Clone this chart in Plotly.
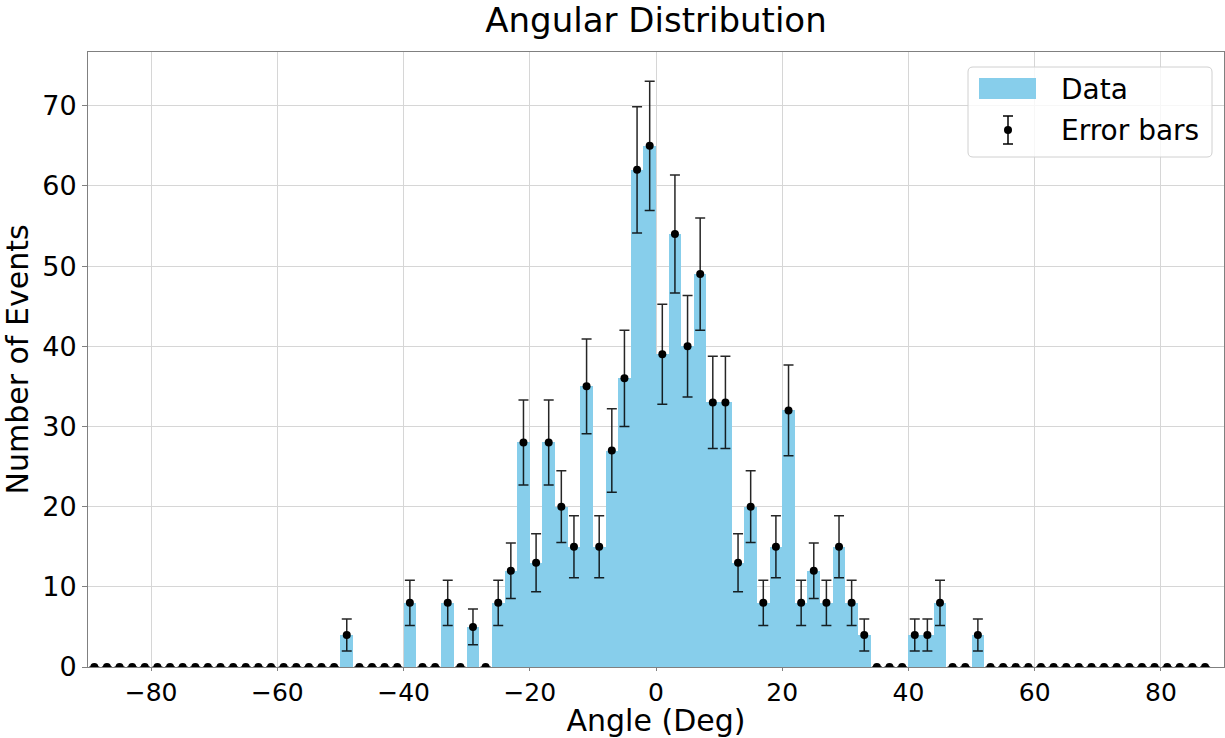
import numpy as np
import plotly.graph_objects as go

# Histogram bins (2-degree width) — bin centres from -89 to 87
bin_centers = list(range(-89, 88, 2))

# Counts per bin
counts = [
    0, 0, 0, 0, 0, 0, 0, 0, 0, 0,   # -89 .. -71
    0, 0, 0, 0, 0, 0, 0, 0, 0, 0,   # -69 .. -51
    4, 0, 0, 0, 0,                  # -49 .. -41
    8, 0, 0, 8, 0,                  # -39 .. -31
    5, 0, 8, 12, 28,                # -29 .. -21
    13, 28, 20, 15, 35,             # -19 .. -11
    15, 27, 36, 62, 65,             # -9 .. -1
    39, 54, 40, 49, 33,             # 1 .. 9
    33, 13, 20, 8, 15,              # 11 .. 19
    32, 8, 12, 8, 15,               # 21 .. 29
    8, 4, 0, 0, 0,                  # 31 .. 39
    4, 4, 8, 0, 0,                  # 41 .. 49
    4, 0, 0, 0, 0,                  # 51 .. 59
    0, 0, 0, 0, 0, 0, 0, 0, 0, 0,   # 61 .. 79
    0, 0, 0, 0,                     # 81 .. 87
]
errors = list(np.sqrt(counts))  # Poisson (sqrt N) error bars

x_tick_vals = [-80, -60, -40, -20, 0, 20, 40, 60, 80]
x_tick_text = ["\u221280", "\u221260", "\u221240", "\u221220", "0", "20", "40", "60", "80"]
y_tick_vals = [0, 10, 20, 30, 40, 50, 60, 70]
y_tick_text = ["0", "10", "20", "30", "40", "50", "60", "70"]
legend_labels = ["Data", "Error bars"]

FONT = "DejaVu Sans"
BAR_COLOR = "#87CEEB"
W, H = 1225, 738
ML, MR, MT, MB = 88, 1, 52, 71
PW, PH = W - ML - MR, H - MT - MB


def px(xp):
    return (xp - ML) / PW


def py(yp):
    return (H - MB - yp) / PH


fig = go.Figure()
fig.add_trace(go.Bar(
    x=bin_centers, y=counts, width=2,
    marker=dict(color=BAR_COLOR, line=dict(width=0)),
    name=legend_labels[0],
))
fig.add_trace(go.Scatter(
    x=bin_centers, y=counts, mode="markers",
    marker=dict(color="black", size=8),
    error_y=dict(type="data", array=errors, visible=True,
                 color="rgba(0,0,0,0.85)", thickness=1.5, width=5),
    name=legend_labels[1],
))

# ---- custom legend (matplotlib-style) ----
bx0, bx1, by0, by1, r = 968, 1212, 67, 157, 5
rx, ry = r / PW, r / PH
X0, X1, Y0, Y1 = px(bx0), px(bx1), py(by1), py(by0)
path = (f"M {X0+rx},{Y0} L {X1-rx},{Y0} Q {X1},{Y0} {X1},{Y0+ry} "
        f"L {X1},{Y1-ry} Q {X1},{Y1} {X1-rx},{Y1} L {X0+rx},{Y1} "
        f"Q {X0},{Y1} {X0},{Y1-ry} L {X0},{Y0+ry} Q {X0},{Y0} {X0+rx},{Y0} Z")
shapes = [
    dict(type="path", path=path, xref="paper", yref="paper",
         fillcolor="rgba(255,255,255,0.8)", line=dict(color="#d0d0d0", width=1)),
    dict(type="rect", xref="paper", yref="paper",
         x0=px(979), x1=px(1036), y0=py(99), y1=py(78),
         fillcolor=BAR_COLOR, line=dict(width=0)),
    dict(type="line", xref="paper", yref="paper",
         x0=px(1008), x1=px(1008), y0=py(144), y1=py(116),
         line=dict(color="black", width=1.5)),
    dict(type="line", xref="paper", yref="paper",
         x0=px(1003), x1=px(1013), y0=py(116), y1=py(116),
         line=dict(color="black", width=1.5)),
    dict(type="line", xref="paper", yref="paper",
         x0=px(1003), x1=px(1013), y0=py(144), y1=py(144),
         line=dict(color="black", width=1.5)),
    dict(type="circle", xref="paper", yref="paper",
         x0=px(1004), x1=px(1012), y0=py(134), y1=py(126),
         fillcolor="black", line=dict(width=0)),
]
annotations = [
    dict(text=legend_labels[0], x=px(1059), y=py(90), xref="paper", yref="paper",
         xanchor="left", yanchor="middle", showarrow=False,
         font=dict(family=FONT, size=28, color="black")),
    dict(text=legend_labels[1], x=px(1059), y=py(130), xref="paper", yref="paper",
         xanchor="left", yanchor="middle", showarrow=False,
         font=dict(family=FONT, size=28, color="black")),
]

fig.update_layout(
    width=W, height=H,
    paper_bgcolor="white", plot_bgcolor="white",
    margin=dict(l=ML, r=MR, t=MT, b=MB, autoexpand=False),
    font=dict(family=FONT, size=27, color="black"),
    title=dict(text="Angular Distribution", x=0.5, xref="paper", xanchor="center",
               y=1 - 20 / H, yref="container", yanchor="middle",
               font=dict(family=FONT, size=34, color="black")),
    bargap=0,
    showlegend=False,
    shapes=shapes,
    annotations=annotations,
)

fig.update_xaxes(
    range=[-90, 90], tickvals=x_tick_vals, ticktext=x_tick_text,
    showgrid=True, gridcolor="#d6d6d6", gridwidth=1,
    showline=True, linecolor="#808080", linewidth=1, mirror=True,
    ticks="outside", ticklen=3, tickcolor="#808080",
    tickfont=dict(family=FONT, size=25, color="black"),
    zeroline=False,
    title=dict(text="Angle (Deg)", font=dict(family=FONT, size=30, color="black"), standoff=7),
)
fig.update_yaxes(
    range=[0, 76.7], tickvals=y_tick_vals, ticktext=y_tick_text,
    showgrid=True, gridcolor="#d6d6d6", gridwidth=1,
    showline=True, linecolor="#808080", linewidth=1, mirror=True,
    ticks="outside", ticklen=5, tickcolor="#808080",
    tickfont=dict(family=FONT, size=27, color="black"),
    zeroline=False,
    title=dict(text="Number of Events", font=dict(family=FONT, size=30, color="black"), standoff=10),
)

fig.write_html(
    "out.html",
    config={"displayModeBar": False},
    post_script="document.body.style.margin='0px';document.body.style.overflow='hidden';",
)
